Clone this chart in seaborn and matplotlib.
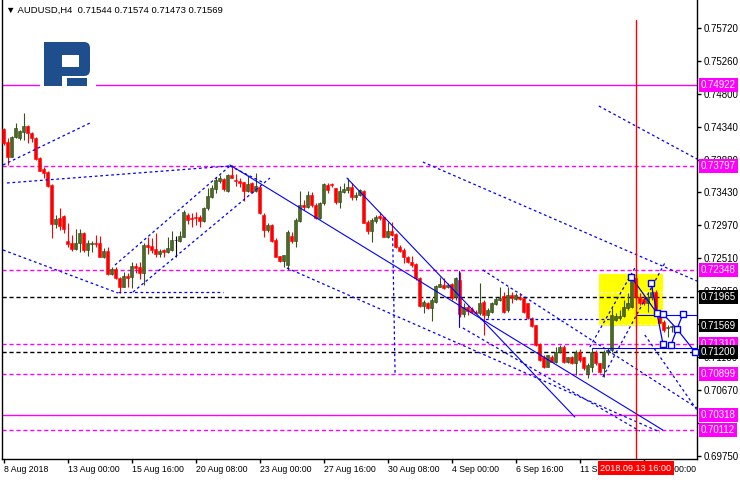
import numpy as np
import pandas as pd
import seaborn as sns
import matplotlib.pyplot as plt
from matplotlib.patches import Rectangle, FancyBboxPatch

# AUDUSD H4 candles (8 Aug 2018 08:00 onwards)
opens = [
    0.74304, 0.74132, 0.73922, 0.74192, 0.74178, 0.74271, 0.74350, 0.74257, 0.74188, 0.73899,
    0.73746, 0.73713, 0.73527, 0.72983, 0.73062, 0.73095, 0.72746, 0.72713, 0.72634, 0.72713,
    0.72862, 0.72620, 0.72704, 0.72713, 0.72723, 0.72527, 0.72606, 0.72290, 0.72360, 0.72234,
    0.72109, 0.72258, 0.72248, 0.72402, 0.72388, 0.72304, 0.72691, 0.72676, 0.72634, 0.72565,
    0.72616, 0.72597, 0.72620, 0.72760, 0.72751, 0.72806, 0.73109, 0.73062, 0.73076, 0.73076,
    0.73030, 0.73202, 0.73355, 0.73467, 0.73588, 0.73611, 0.73448, 0.73667, 0.73597, 0.73583,
    0.73574, 0.73448, 0.73551, 0.73449, 0.73505, 0.73110, 0.72900, 0.72970, 0.72760, 0.72537,
    0.72472, 0.72412, 0.72816, 0.72751, 0.73030, 0.73249, 0.73226, 0.73388, 0.73249, 0.73063,
    0.73272, 0.73528, 0.73537, 0.73491, 0.73295, 0.73435, 0.73458, 0.73505, 0.73356, 0.73388,
    0.73449, 0.73016, 0.72891, 0.73030, 0.73095, 0.73086, 0.72807, 0.72886, 0.72840, 0.72668,
    0.72621, 0.72528, 0.72454, 0.72421, 0.72226, 0.71840, 0.71886, 0.71807, 0.71900, 0.72110,
    0.72133, 0.72100, 0.72142, 0.71970, 0.72203, 0.71724, 0.71821, 0.71793, 0.71761, 0.71738,
    0.71900, 0.71715, 0.71762, 0.71869, 0.71925, 0.71980, 0.71785, 0.71994, 0.71934, 0.71962,
    0.71948, 0.71878, 0.71669, 0.71576, 0.71310, 0.71125, 0.70994, 0.71134, 0.71064, 0.71204,
    0.71274, 0.71064, 0.71125, 0.71050, 0.71204, 0.71125, 0.70893, 0.70994, 0.71204, 0.71041,
    0.70971, 0.71204, 0.71227, 0.71645, 0.71669, 0.71701, 0.71808, 0.71822, 0.72227, 0.71971,
    0.71934, 0.71878, 0.71971, 0.72040, 0.71738, 0.71622, 0.71529, 0.71544,
]
highs = [
    0.74318, 0.74178, 0.74211, 0.74388, 0.74294, 0.74527, 0.74364, 0.74271, 0.74192, 0.73913,
    0.73783, 0.73727, 0.73537, 0.73109, 0.73202, 0.73109, 0.72993, 0.72830, 0.72909, 0.72909,
    0.72876, 0.72760, 0.72746, 0.72830, 0.72816, 0.72644, 0.72667, 0.72388, 0.72388, 0.72248,
    0.72318, 0.72304, 0.72458, 0.72434, 0.72458, 0.72713, 0.72806, 0.72783, 0.72853, 0.72630,
    0.72630, 0.72806, 0.72890, 0.72816, 0.72886, 0.73178, 0.73141, 0.73132, 0.73155, 0.73109,
    0.73225, 0.73480, 0.73527, 0.73634, 0.73667, 0.73620, 0.73681, 0.73806, 0.73681, 0.73620,
    0.73574, 0.73667, 0.73574, 0.73691, 0.73528, 0.73133, 0.72993, 0.72984, 0.72784, 0.72537,
    0.72551, 0.72900, 0.72877, 0.73063, 0.73449, 0.73319, 0.73449, 0.73435, 0.73272, 0.73295,
    0.73551, 0.73560, 0.73560, 0.73491, 0.73514, 0.73551, 0.73621, 0.73551, 0.73435, 0.73467,
    0.73458, 0.73040, 0.73063, 0.73109, 0.73156, 0.73086, 0.73016, 0.73016, 0.72853, 0.72691,
    0.72644, 0.72537, 0.72537, 0.72435, 0.72249, 0.71924, 0.71900, 0.71947, 0.72133, 0.72249,
    0.72226, 0.72156, 0.72165, 0.72249, 0.72319, 0.71877, 0.71854, 0.71831, 0.71784, 0.72165,
    0.71924, 0.71808, 0.71901, 0.71971, 0.72111, 0.72040, 0.72111, 0.72040, 0.72017, 0.72027,
    0.71948, 0.71885, 0.71692, 0.71576, 0.71320, 0.71157, 0.71157, 0.71157, 0.71274, 0.71297,
    0.71297, 0.71134, 0.71143, 0.71227, 0.71237, 0.71134, 0.71040, 0.71250, 0.71227, 0.71050,
    0.71227, 0.71250, 0.71808, 0.71738, 0.71785, 0.71924, 0.72017, 0.72250, 0.72227, 0.72017,
    0.71980, 0.72017, 0.72166, 0.72064, 0.71762, 0.71645, 0.71576, 0.71574,
]
lows = [
    0.74085, 0.73806, 0.73913, 0.74178, 0.74155, 0.74155, 0.74118, 0.74132, 0.73876, 0.73718,
    0.73620, 0.73504, 0.72783, 0.72923, 0.72899, 0.72862, 0.72667, 0.72611, 0.72620, 0.72597,
    0.72597, 0.72541, 0.72597, 0.72667, 0.72518, 0.72504, 0.72280, 0.72280, 0.72220, 0.72016,
    0.72100, 0.72109, 0.72086, 0.72295, 0.72220, 0.72132, 0.72565, 0.72574, 0.72527, 0.72518,
    0.72518, 0.72583, 0.72611, 0.72527, 0.72737, 0.72797, 0.72986, 0.72946, 0.72969, 0.72946,
    0.73016, 0.73178, 0.73341, 0.73411, 0.73550, 0.73448, 0.73434, 0.73620, 0.73513, 0.73495,
    0.73309, 0.73434, 0.73421, 0.73435, 0.73123, 0.72807, 0.72877, 0.72737, 0.72519, 0.72458,
    0.72391, 0.72342, 0.72723, 0.72668, 0.73016, 0.73179, 0.73202, 0.73226, 0.73049, 0.73049,
    0.73249, 0.73421, 0.73505, 0.73263, 0.73202, 0.73412, 0.73412, 0.73319, 0.73319, 0.73374,
    0.72993, 0.72844, 0.72737, 0.72993, 0.73040, 0.72798, 0.72784, 0.72816, 0.72644, 0.72598,
    0.72435, 0.72444, 0.72388, 0.72203, 0.71830, 0.71738, 0.71793, 0.71635, 0.71886, 0.72100,
    0.72072, 0.72086, 0.71923, 0.71923, 0.71691, 0.71691, 0.71714, 0.71738, 0.71728, 0.71714,
    0.71436, 0.71669, 0.71748, 0.71855, 0.71915, 0.71748, 0.71762, 0.71878, 0.71925, 0.71925,
    0.71748, 0.71655, 0.71543, 0.71290, 0.71078, 0.70971, 0.70985, 0.71055, 0.71050, 0.71181,
    0.71050, 0.71041, 0.71032, 0.70878, 0.71064, 0.70949, 0.70833, 0.70925, 0.71018, 0.70911,
    0.70855, 0.71157, 0.71204, 0.71636, 0.71645, 0.71692, 0.71785, 0.71808, 0.71715, 0.71855,
    0.71855, 0.71762, 0.71925, 0.71715, 0.71599, 0.71483, 0.71404, 0.71473,
]
closes = [
    0.74108, 0.73922, 0.74192, 0.74318, 0.74281, 0.74350, 0.74248, 0.74178, 0.73885, 0.73727,
    0.73690, 0.73513, 0.72983, 0.73053, 0.72955, 0.72909, 0.72704, 0.72634, 0.72713, 0.72862,
    0.72620, 0.72723, 0.72723, 0.72704, 0.72527, 0.72611, 0.72290, 0.72360, 0.72234, 0.72100,
    0.72258, 0.72234, 0.72402, 0.72374, 0.72304, 0.72691, 0.72667, 0.72620, 0.72565, 0.72606,
    0.72597, 0.72644, 0.72760, 0.72760, 0.72816, 0.73146, 0.73039, 0.73048, 0.73062, 0.73030,
    0.73211, 0.73374, 0.73480, 0.73597, 0.73620, 0.73467, 0.73667, 0.73629, 0.73583, 0.73560,
    0.73448, 0.73541, 0.73435, 0.73514, 0.73133, 0.72900, 0.72970, 0.72751, 0.72528, 0.72472,
    0.72551, 0.72877, 0.72751, 0.73040, 0.73249, 0.73226, 0.73388, 0.73249, 0.73063, 0.73281,
    0.73537, 0.73458, 0.73523, 0.73295, 0.73444, 0.73472, 0.73505, 0.73356, 0.73388, 0.73458,
    0.73002, 0.72891, 0.73040, 0.73086, 0.73072, 0.72807, 0.72891, 0.72830, 0.72658, 0.72612,
    0.72519, 0.72454, 0.72412, 0.72226, 0.71840, 0.71900, 0.71807, 0.71924, 0.72119, 0.72142,
    0.72086, 0.72133, 0.71947, 0.72226, 0.71724, 0.71831, 0.71775, 0.71761, 0.71747, 0.71886,
    0.71715, 0.71785, 0.71878, 0.71938, 0.71957, 0.71762, 0.71994, 0.71948, 0.71994, 0.71934,
    0.71762, 0.71668, 0.71562, 0.71300, 0.71088, 0.70994, 0.71157, 0.71064, 0.71204, 0.71274,
    0.71064, 0.71125, 0.71041, 0.71204, 0.71088, 0.70971, 0.71018, 0.71204, 0.71041, 0.70925,
    0.71204, 0.71227, 0.71715, 0.71701, 0.71701, 0.71831, 0.71878, 0.72241, 0.71971, 0.71878,
    0.71878, 0.71971, 0.72040, 0.71738, 0.71608, 0.71506, 0.71553, 0.71569,
]

x_tick_pos = [0, 16, 32, 48, 64, 80, 96, 112, 128, 144, 160]
x_tick_labels = ["8 Aug 2018", "13 Aug 00:00", "15 Aug 16:00", "20 Aug 08:00", "23 Aug 00:00",
                 "27 Aug 16:00", "30 Aug 08:00", "4 Sep 00:00", "6 Sep 16:00", "11 Sep 08:00",
                 "14 Sep 00:00"]
y_ticks = [0.75720, 0.75260, 0.74800, 0.74340, 0.73880, 0.73430, 0.72970, 0.72510,
           0.72050, 0.71590, 0.71130, 0.70670, 0.70210, 0.69750]
# these two tick labels sit fully under the price boxes in the reference
y_hidden = [0.71590, 0.70210]

magenta_levels = [0.74922, 0.73797, 0.72348, 0.71310, 0.70899, 0.70318, 0.70112]
magenta_solid = [0.74922, 0.70318]
black_levels = [0.71965, 0.71200]
last_price = 0.71569
cursor_bar = 158
cursor_label = "2018.09.13 16:00"
title = "\u25bc AUDUSD,H4  0.71544 0.71574 0.71473 0.71569"

# analyst drawings (bar index, price)
solid_lines = [
    [(56.5, 0.73807), (164.75, 0.70112)],
    [(85.75, 0.73625), (142.75, 0.70293)],
    [(113.8, 0.72333), (113.8, 0.71553)],
    [(147.0, 0.71251), (173.3, 0.71251)],
    [(158.0, 0.71722), (173.3, 0.71722)],
]
dashed_lines = [
    [(-0.25, 0.73807), (21.5, 0.74392)],
    [(0.75, 0.73556), (56.5, 0.73793)],
    [(-0.25, 0.72622), (28.5, 0.72022)],
    [(27.75, 0.72412), (56.5, 0.73793)],
    [(32.25, 0.72036), (66.5, 0.73625)],
    [(56.5, 0.73793), (64.5, 0.73570)],
    [(28.5, 0.72036), (54.75, 0.72036)],
    [(119.0, 0.71660), (151.5, 0.71660)],
    [(97.2, 0.72789), (97.8, 0.70879)],
    [(104.75, 0.73848), (173.3, 0.72189)],
    [(148.75, 0.74629), (173.3, 0.73890)],
    [(70.75, 0.72371), (164.0, 0.70084)],
    [(114.75, 0.71534), (159.0, 0.70098)],
    [(119.75, 0.72343), (173.3, 0.70419)],
    [(160.25, 0.71437), (173.3, 0.70391)],
    [(146.5, 0.71269), (157.75, 0.72371)],
    [(149.75, 0.70851), (165.25, 0.72440)],
]
fc_pts = {
    "p1": (156.8, 0.7225), "p2": (161.8, 0.7216), "p3": (163.3, 0.7174),
    "p4": (164.8, 0.7173), "p5": (164.8, 0.7131), "p6": (166.8, 0.7130),
    "p7": (168.3, 0.7152), "p8": (169.8, 0.7173), "p9": (172.8, 0.7120),
}
fc_paths = [["p1", "p3", "p5"], ["p2", "p3"], ["p4", "p7", "p9"], ["p6", "p7", "p8"]]
box_bars = (148.75, 164.75)
box_prices = (0.71562, 0.72287)
box_inner = [0.72036, 0.71597]

df = pd.DataFrame({"open": opens, "high": highs, "low": lows, "close": closes})
df["bar"] = np.arange(len(df))

sns.set_theme(style="white")
plt.rcParams["font.family"] = ["Liberation Sans", "DejaVu Sans"]

W, H = 740, 480
fig = plt.figure(figsize=(W / 100, H / 100), dpi=100)
ax = fig.add_axes([2 / W, 21 / H, 695 / W, 459 / H])
ax.set_facecolor("white")
ax.set_xlim(-0.5, 173.3)
ax.set_ylim(0.69708, 0.76107)

MAG = "#ff00ff"
BLUE = "#0000ff"
BULL = "#4b6a23"
BEAR = "#ff0000"

# horizontal levels
for lv in magenta_levels:
    ls = "-" if lv in magenta_solid else (0, (3, 2))
    ax.axhline(lv, color=MAG, lw=1, ls=ls, zorder=1.5)
for lv in black_levels:
    ax.axhline(lv, color="black", lw=1, ls=(0, (3, 2)), zorder=1.5)

# yellow rectangle
ax.add_patch(Rectangle((box_bars[0], box_prices[0]), box_bars[1] - box_bars[0],
                       box_prices[1] - box_prices[0], fc="#ffff00", ec="none", zorder=1))
for lv in box_inner:
    ax.plot(box_bars, [lv, lv], color="white", lw=0.8, ls=(0, (3, 2)), zorder=1.2)

# candles
flat = df["open"] == df["close"]
up = df["close"] > df["open"]
wick_col = np.where(flat, "black", np.where(up, "#3a5218", BEAR))
body_col = np.where(flat, "black", np.where(up, BULL, BEAR))
edge_col = np.where(flat, "black", np.where(up, "#2e4212", BEAR))
ax.vlines(df["bar"], df["low"], df["high"], colors=wick_col, lw=0.8, zorder=3)
body_lo = np.minimum(df["open"], df["close"])
body_h = np.maximum(np.abs(df["close"] - df["open"]), 0.00003)
ax.bar(df["bar"], body_h, bottom=body_lo, width=0.75, color=body_col,
       edgecolor=edge_col, linewidth=0.4, zorder=3.5)

# trend lines
for seg in solid_lines:
    xs, ys = zip(*seg)
    ax.plot(xs, ys, color=BLUE, lw=0.8, zorder=4)
for seg in dashed_lines:
    xs, ys = zip(*seg)
    ax.plot(xs, ys, color=BLUE, lw=0.9, ls=(0, (2.2, 2.2)), zorder=4)
for path in fc_paths:
    xs, ys = zip(*[fc_pts[k] for k in path])
    ax.plot(xs, ys, color=BLUE, lw=0.9, zorder=4.5)
mx, my = zip(*fc_pts.values())
ax.plot(mx, my, ls="none", marker="s", ms=4, mfc="white", mec=BLUE, mew=1, zorder=5,
        clip_on=False)

ax.axvline(cursor_bar, ymax=1 - 20 / 459, color="red", lw=1, zorder=4.6)

# axes styling
sns.despine(ax=ax, top=True, right=False, left=False, bottom=False)
for s in ["left", "right", "bottom"]:
    ax.spines[s].set_color("black")
    ax.spines[s].set_linewidth(1)
ax.yaxis.tick_right()
ax.set_yticks(y_ticks)
ax.set_yticklabels(["" if v in y_hidden else f"{v:.5f}" for v in y_ticks])
ax.set_xticks(x_tick_pos)
ax.set_xticklabels(x_tick_labels, ha="left")
ax.tick_params(axis="both", direction="out", length=3, width=1, color="black",
               labelcolor="black", pad=1.5)
ax.tick_params(axis="y", left=False, right=True, labelsize=7)
ax.tick_params(axis="x", bottom=True, labelsize=6.3)
ax.grid(False)


def price_box(level, fc):
    ax.text(1.0058, level, f"{level:.5f}", transform=ax.get_yaxis_transform(),
            ha="left", va="center", color="white", fontsize=7, zorder=10, clip_on=False,
            bbox=dict(boxstyle="square,pad=0.2", fc=fc, ec="none"))


for lv in magenta_levels:
    price_box(lv, MAG)
for lv in [black_levels[0], last_price, black_levels[1]]:
    price_box(lv, "black")

ax.text(cursor_bar, -0.02, cursor_label, transform=ax.get_xaxis_transform(), ha="center",
        va="center", color="white", fontsize=6.6, zorder=10, clip_on=False,
        bbox=dict(boxstyle="square,pad=0.25", fc="red", ec="none"))

fig.text(6 / W, 1 - 10 / H, title, fontsize=6.8, va="center", ha="left", color="black")


# logo
def logo_rect(x0, y0, x1, y1, color, rounded=False):
    xy = (x0 / 100, (H - y1) / 100)
    w, h = (x1 - x0) / 100, (y1 - y0) / 100
    if rounded:
        p = FancyBboxPatch(xy, w, h, boxstyle="round,pad=0,rounding_size=0.06",
                           transform=fig.dpi_scale_trans, fc=color, ec="none", zorder=20)
    else:
        p = Rectangle(xy, w, h, transform=fig.dpi_scale_trans, fc=color, ec="none", zorder=20)
    fig.add_artist(p)


LOGO = "#1f4e8c"
logo_rect(40, 37, 96, 91, "white")
logo_rect(44, 42, 90, 76, LOGO, rounded=True)
logo_rect(44, 42, 62, 86, LOGO)
logo_rect(62, 55, 79, 67, "white")
logo_rect(67, 78, 87, 86, LOGO)

fig.savefig("out.png", dpi=100)
